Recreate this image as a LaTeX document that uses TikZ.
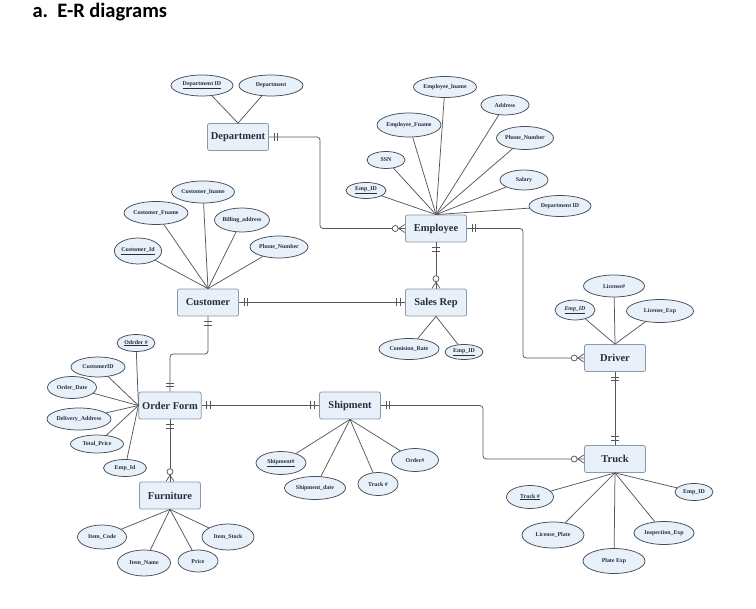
\documentclass[tikz,border=0pt]{standalone}
\usepackage{fontspec}
\setmainfont{Liberation Serif}
\newfontfamily\titlefont{Carlito}
\usetikzlibrary{shapes.geometric,decorations.markings,calc}
\definecolor{boxfill}{HTML}{E8F0FA}
\definecolor{boxline}{HTML}{8A98AA}
\definecolor{attline}{HTML}{484C56}
\definecolor{linkgray}{HTML}{585858}
\definecolor{txtcol}{HTML}{2A2D3A}
\tikzset{
	entity/.style ={rectangle, rounded corners=2pt, draw=boxline, fill=boxfill, line width=0.8pt,
		minimum width=61pt, minimum height=27pt, text=txtcol,
		font=\bfseries\fontsize{10.5}{12}\selectfont},
	attr/.style = {ellipse, draw=attline, fill=boxfill, line width=0.75pt, inner sep=0pt, text=txtcol,
		font=\bfseries\fontsize{5.9}{6.5}\selectfont},
	sz/.style 2 args = {minimum width=#1pt, minimum height=#2pt},
	link/.style = {draw=linkgray, line width=0.75pt},
	rel/.style = {link, rounded corners=3pt},
	onestart/.style = {postaction={decorate, decoration={markings,
		mark=at position 5pt with {\draw[link] (0pt,-4pt) -- (0pt,4pt);},
		mark=at position 8.5pt with {\draw[link] (0pt,-4pt) -- (0pt,4pt);}}}},
	oneend/.style = {postaction={decorate, decoration={markings,
		mark=at position -5pt with {\draw[link] (0pt,-4pt) -- (0pt,4pt);},
		mark=at position -8.5pt with {\draw[link] (0pt,-4pt) -- (0pt,4pt);}}}},
	manyend/.style = {postaction={decorate, decoration={markings,
		mark=at position -0.4pt with {\draw[link] (-6pt,0pt) -- (0pt,4pt) (-6pt,0pt) -- (0pt,-4pt);
			\draw[link, fill=white] (-9.5pt,0pt) circle (3pt);}}}}
}

\begin{document}
\begin{tikzpicture}[x=1pt, y=-1pt]
\useasboundingbox (0,0) rectangle (756,609);

\node[anchor=west, font=\titlefont\bfseries\fontsize{20.5}{22}\selectfont] (title) at (29,12) {a.\ \ E-R diagrams};

% entities
\node[entity] (dep) at (238,137) {Department};
\node[entity] (emp) at (436,228.5) {Employee};
\node[entity] (cust) at (208,302.5) {Customer};
\node[entity] (srep) at (436,302.5) {Sales Rep};
\node[entity] (drv) at (615,358) {Driver};
\node[entity] (ordf) at (170,405.5) {Order Form};
\node[entity] (ship) at (350,405.5) {Shipment};
\node[entity] (furn) at (170,495.5) {Furniture};
\node[entity] (truck) at (615,459) {Truck};

% attributes
\node[attr, sz={62}{21}] (depid) at (202,85.5) {\underline{Department ID}};
\node[attr, sz={64}{21}] (depname) at (271,85.5) {Department};

\node[attr, sz={63}{21}] (elname) at (445,87) {Employee\_lname};
\node[attr, sz={48}{20}] (eaddr) at (505,105) {Address};
\node[attr, sz={62}{24}] (efname) at (409,125) {Employee\_Fname};
\node[attr, sz={57}{23}] (ephone) at (525,138) {Phone\_Number};
\node[attr, sz={38}{17}] (essn) at (386,160) {SSN};
\node[attr, sz={48}{20}] (esal) at (524,180) {Salary};
\node[attr, sz={40}{16}] (eid) at (366,190.5) {\underline{Emp\_ID}};
\node[attr, sz={62}{21}] (edep) at (560,206) {Department ID};

\node[attr, sz={63}{22}] (clname) at (203,192) {Customer\_lname};
\node[attr, sz={62}{23}] (cfname) at (156,213) {Customer\_Fname};
\node[attr, sz={53}{24}] (cbill) at (242,220) {Billing\_address};
\node[attr, sz={43}{26}] (cid) at (138,251) {\underline{Customer\_Id}};
\node[attr, sz={58}{22}] (cphone) at (279,247) {Phone\_Number};

\node[attr, sz={60}{21}] (srate) at (409,349) {Comision\_Rate};
\node[attr, sz={38}{15}] (sid) at (464,352) {\underline{Emp\_ID}};

\node[attr, sz={61}{22}] (dlic) at (614,286) {License\#};
\node[attr, sz={40}{20}] (did) at (575,310) {\textit{\underline{Emp\_ID}}};
\node[attr, sz={67}{23}] (dexp) at (660,311) {License\_Exp};

\node[attr, sz={38}{17}] (ono) at (136,343) {\underline{Odrder \#}};
\node[attr, sz={54}{20}] (ocust) at (98,367) {CustomerID};
\node[attr, sz={49}{22}] (odate) at (72,387.5) {Order\_Date};
\node[attr, sz={64}{22}] (oaddr) at (79,419) {Delivery\_Address};
\node[attr, sz={53}{18}] (oprice) at (97,444) {Total\_Price};
\node[attr, sz={43}{17}] (oemp) at (125,468) {Emp\_Id};

\node[attr, sz={49}{24}] (fcode) at (102,537) {Item\_Code};
\node[attr, sz={53}{26}] (fname) at (144,563) {Item\_Name};
\node[attr, sz={40}{22}] (fprice) at (198,561) {Price};
\node[attr, sz={52}{26}] (fstock) at (228,537) {Item\_Stock};

\node[attr, sz={50}{23}] (shno) at (281,463) {\underline{Shipment\#}};
\node[attr, sz={61}{23}] (shdate) at (315,488) {Shipment\_date};
\node[attr, sz={40}{23}] (shtruck) at (378,484) {Truck \#};
\node[attr, sz={47}{23}] (shorder) at (415,460) {Order\#};

\node[attr, sz={47}{23}] (tno) at (530,497) {\underline{Truck \#}};
\node[attr, sz={38}{17}] (temp) at (694,492) {Emp\_ID};
\node[attr, sz={62}{26}] (tplate) at (553,535) {License\_Plate};
\node[attr, sz={60}{23}] (tinsp) at (664,533) {Inspection\_Exp};
\node[attr, sz={62}{25}] (tpexp) at (614,561) {Plate Exp};

% attribute links
\path[link] (dep.north) edge (depid) edge (depname);
\path[link] (emp.north) edge (elname) edge (eaddr) edge (efname) edge (ephone)
	edge (essn) edge (esal) edge (eid) edge (edep);
\path[link] (cust.north) edge (clname) edge (cfname) edge (cbill) edge (cid) edge (cphone);
\path[link] (srep.south) edge (srate) edge (sid);
\path[link] (drv.north) edge (dlic) edge (did) edge (dexp);
\path[link] (ordf.west) edge (ono) edge (ocust) edge (odate) edge (oaddr) edge (oprice) edge (oemp);
\path[link] (furn.south) edge (fcode) edge (fname) edge (fprice) edge (fstock);
\path[link] (ship.south) edge (shno) edge (shdate) edge (shtruck) edge (shorder);
\path[link] (truck.south) edge (tno) edge (temp) edge (tplate) edge (tinsp) edge (tpexp);

% relationships
\coordinate (k1) at (320,180);
\coordinate (k2) at (523,300);
\coordinate (k3) at (190,354);
\coordinate (k4) at (483,430);

\draw[rel, onestart, manyend] (dep.east) -| (k1) |- (emp.west);
\draw[rel, onestart, manyend] (emp.east) -| (k2) |- (drv.west);
\draw[rel, onestart, manyend] (emp.south) -- (srep.north);
\draw[rel, onestart, oneend] (cust.east) -- (srep.west);
\draw[rel, onestart, oneend] (cust.south) |- (k3) -| (ordf.north);
\draw[rel, onestart, oneend] (ordf.east) -- (ship.west);
\draw[rel, onestart, manyend] (ordf.south) -- (furn.north);
\draw[rel, onestart, manyend] (ship.east) -| (k4) |- (truck.west);
\draw[rel, onestart, oneend] (drv.south) -- (truck.north);

\end{tikzpicture}
\end{document}
